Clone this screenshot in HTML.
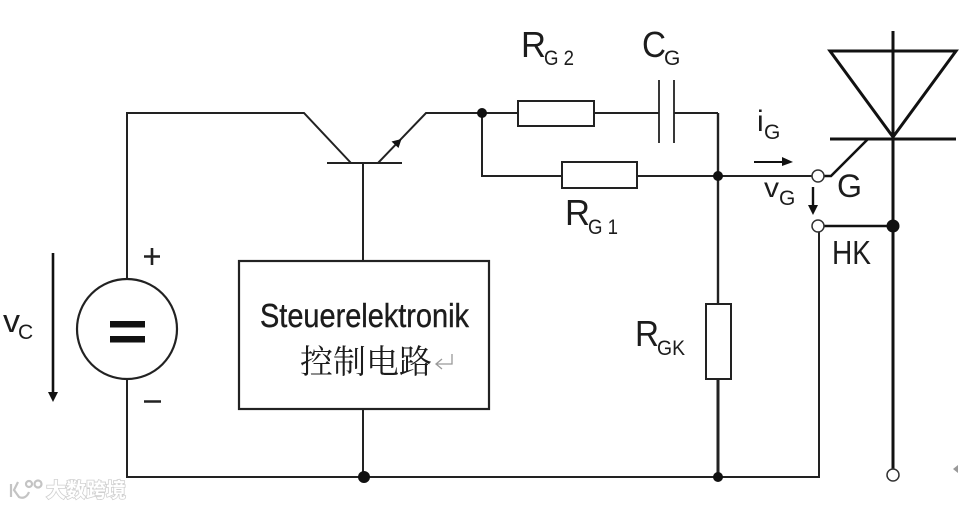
<!DOCTYPE html>
<html>
<head>
<meta charset="utf-8">
<style>
html,body{margin:0;padding:0;background:#fff;width:961px;height:507px;overflow:hidden}
svg{display:block;filter:blur(0.35px)}
text{font-family:"Liberation Sans","Noto Sans CJK SC",sans-serif;fill:#1c1c1c}
</style>
</head>
<body>
<svg width="961" height="507" viewBox="0 0 961 507" xmlns="http://www.w3.org/2000/svg">
<rect width="961" height="507" fill="#fff"/>
<g fill="none" stroke="#222" stroke-width="2">
  <!-- left and bottom wires -->
  <path d="M127 279V113H304L351 163"/>
  <path d="M127 379V477H819V226"/>
  <!-- transistor -->
  <path d="M327 163H402" />
  <path d="M378 163L426 113H518"/>
  <path d="M363 163V261"/>
  <path d="M363 409V477"/>
  <!-- upper branch -->
  <path d="M594 113H659"/>
  <path d="M659 80V143M674 80V143" stroke-width="1.8"/>
  <path d="M674 113H718"/>
  <!-- lower branch -->
  <path d="M482 113V176H562"/>
  <path d="M637 176H812"/>
  <path d="M718 113V304" stroke-width="2.4"/>
  <path d="M718 379V477" stroke-width="3"/>
  <!-- components -->
  <rect x="518" y="101" width="76" height="25" fill="#fff"/>
  <rect x="562" y="162" width="75" height="26" fill="#fff"/>
  <rect x="706" y="304" width="25" height="75" fill="#fff"/>
  <rect x="239" y="261" width="250" height="148" fill="#fff" stroke-width="2.2"/>
  <circle cx="127" cy="329" r="50" fill="#fff" stroke-width="2.2"/>
  <!-- thyristor -->
  <path d="M893 31V469" stroke-width="3" stroke="#111"/>
  <path d="M830 51H956L893 137Z" stroke-width="3" stroke="#111"/>
  <path d="M830 139H956" stroke-width="3" stroke="#111"/>
  <path d="M868 139L831 176H824" stroke-width="2.6" stroke="#111"/>
  <path d="M824 226H893" stroke-width="2.6" stroke="#111"/>
  <!-- arrows -->
  <path d="M53 253V392" stroke-width="2.6" stroke="#111"/>
  <path d="M813 187V205" stroke-width="2.4" stroke="#111"/>
  <path d="M754 162H782" stroke-width="2" stroke="#111"/>
  <!-- plus minus -->
  <path d="M144 256.500H160M152 248V265" stroke-width="2.600"/>
  <path d="M144 401.500H161" stroke-width="2.600"/>
</g>
<!-- arrowheads -->
<g fill="#111">
  <path d="M48 392H58L53 402Z"/>
  <path d="M808 205H818L813 215Z"/>
  <path d="M782 157L793 162L782 166Z"/>
  <path d="M401.500 139L391.500 141.500L398.500 148Z"/>
  <rect x="110" y="321" width="35" height="6.500"/>
  <rect x="110" y="336" width="35" height="6.500"/>
  <circle cx="482" cy="113" r="5"/>
  <circle cx="718" cy="176" r="5"/>
  <circle cx="893" cy="226" r="6.500"/>
  <circle cx="364" cy="477" r="6"/>
  <circle cx="718" cy="477" r="5"/>
</g>
<g fill="#fff" stroke="#333" stroke-width="1.500">
  <circle cx="818" cy="176" r="6"/>
  <circle cx="818" cy="226" r="6"/>
  <circle cx="893" cy="475" r="6"/>
</g>
<path d="M953 469L958 465V473Z" fill="#999"/>
<!-- labels -->
<text x="3" y="332" font-size="32" textLength="17" lengthAdjust="spacingAndGlyphs">v</text>
<text x="18" y="339" font-size="21">C</text>
<text x="521" y="57" font-size="36" textLength="25" lengthAdjust="spacingAndGlyphs">R</text>
<text x="544" y="65" font-size="21" textLength="30" lengthAdjust="spacingAndGlyphs">G 2</text>
<text x="642" y="57" font-size="36" textLength="24" lengthAdjust="spacingAndGlyphs">C</text>
<text x="664" y="65" font-size="21">G</text>
<text x="565" y="225" font-size="36" textLength="25" lengthAdjust="spacingAndGlyphs">R</text>
<text x="588" y="234" font-size="21" textLength="30" lengthAdjust="spacingAndGlyphs">G 1</text>
<text x="635" y="346" font-size="36" textLength="24" lengthAdjust="spacingAndGlyphs">R</text>
<text x="657" y="355" font-size="21" textLength="28" lengthAdjust="spacingAndGlyphs">GK</text>
<text x="757" y="131" font-size="30">i</text>
<text x="764" y="139" font-size="21">G</text>
<text x="764" y="197" font-size="28" textLength="15" lengthAdjust="spacingAndGlyphs">v</text>
<text x="779" y="205" font-size="21">G</text>
<text x="837" y="197" font-size="32" textLength="25" lengthAdjust="spacingAndGlyphs">G</text>
<text x="832" y="264" font-size="33" textLength="39" lengthAdjust="spacingAndGlyphs">HK</text>
<text x="260" y="327" font-size="33" textLength="209" lengthAdjust="spacingAndGlyphs" stroke="#1c1c1c" stroke-width="0.4">Steuerelektronik</text>
<text x="300" y="373" font-size="33" textLength="132" style="font-family:'Noto Serif CJK SC','Noto Sans CJK SC',serif" fill="#111">控制电路</text>
<path d="M452 354V364H436M442 359L436 364L442 369" fill="none" stroke="#999" stroke-width="1.300"/>
<!-- watermark -->
<g fill="none" stroke="#c4c4c4" stroke-width="2.200">
  <path d="M11 484V497M18 482L14 490L19 497C23 499 27 497 29 492"/>
  <circle cx="29" cy="484" r="3"/>
  <circle cx="38" cy="484" r="3.500"/>
</g>
<text x="46" y="497" font-size="20" textLength="80" stroke="#cfcfcf" stroke-width="1.600" style="fill:#fff;paint-order:stroke;font-family:'Noto Sans CJK SC',sans-serif;font-weight:700">大数跨境</text>
</svg>
</body>
</html>
